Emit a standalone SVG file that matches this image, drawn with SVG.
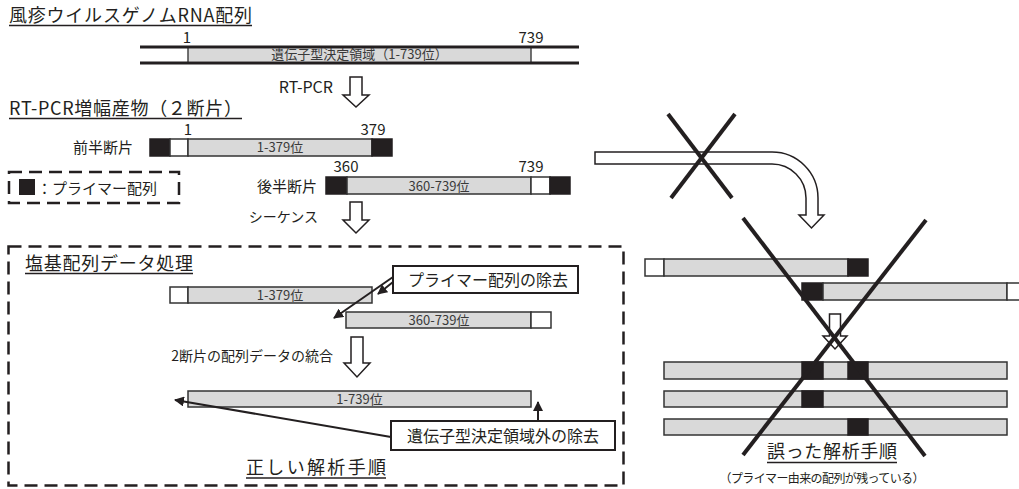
<svg xmlns="http://www.w3.org/2000/svg" width="1019" height="489" viewBox="0 0 1019 489">
<defs>
<style>
text{font-family:"Noto Sans CJK JP","Noto Sans CJK SC",sans-serif;fill:#231f20}
.t18{font-size:18px}
.t16{font-size:16px}
.t15{font-size:15px}
.t14{font-size:14px}
.lab{font-size:13px;fill:#3a3a3a;text-anchor:middle}
.num{font-size:15px;text-anchor:middle}
.ul{stroke:#231f20;stroke-width:1.3}
.g{fill:#d9d9d9;stroke:#333;stroke-width:1.5}
.w{fill:#fff;stroke:#333;stroke-width:1.5}
.k{fill:#231f20;stroke:#231f20;stroke-width:1.5}
.harrow{fill:#fff;stroke:#231f20;stroke-width:1.5;stroke-linejoin:miter}
.dash{fill:none;stroke:#231f20;stroke-width:2.5;stroke-dasharray:13 7}
.box{fill:#fff;stroke:#231f20;stroke-width:2}
.con{fill:none;stroke:#231f20;stroke-width:2;marker-end:url(#ah)}
.x{stroke:#231f20;stroke-width:4;stroke-linecap:butt}
</style>
<marker id="ah" viewBox="0 0 10 10" refX="9" refY="5" markerWidth="5" markerHeight="5" orient="auto" markerUnits="strokeWidth">
<path d="M0,0 L10,5 L0,10 Z" fill="#231f20"/>
</marker>
</defs>
<rect width="1019" height="489" fill="#fff"/>

<g id="genome">
<text class="t18" x="9" y="22" textLength="243">風疹ウイルスゲノムRNA配列</text>
<line class="ul" x1="9" y1="25.5" x2="252" y2="25.5"/>
<rect x="188" y="48.5" width="343" height="13" fill="#d9d9d9"/>
<line x1="188" y1="48" x2="188" y2="62" stroke="#444" stroke-width="1.5"/>
<line x1="531" y1="48" x2="531" y2="62" stroke="#444" stroke-width="1.5"/>
<line x1="140" y1="47" x2="579" y2="47" stroke="#231f20" stroke-width="3"/>
<line x1="140" y1="63" x2="579" y2="63" stroke="#231f20" stroke-width="3"/>
<text class="num" x="187" y="43">1</text>
<text class="num" x="531" y="43">739</text>
<text class="lab" x="359.5" y="59" font-size="12.5">遺伝子型決定領域（1-739位）</text>
</g>

<g id="rtpcr-step">
<text class="t16" x="333" y="93" text-anchor="end">RT-PCR</text>
<path class="harrow" d="M350,77 H362 V95 H369 L356,107 L343,95 H350 Z"/>
</g>

<g id="products">
<text class="t18" x="9" y="115" textLength="233">RT-PCR増幅産物（２断片）</text>
<line class="ul" x1="9" y1="118.5" x2="242" y2="118.5"/>
</g>

<g id="front-fragment">
<text class="t15" x="133" y="153" text-anchor="end">前半断片</text>
<rect class="k" x="150" y="139" width="20" height="17"/>
<rect class="w" x="170" y="139" width="18" height="17"/>
<rect class="g" x="188" y="139" width="184" height="17"/>
<rect class="k" x="372" y="139" width="20" height="17"/>
<text class="num" x="188" y="135">1</text>
<text class="num" x="373" y="135">379</text>
<text class="lab" x="280" y="152">1-379位</text>
</g>

<g id="legend">
<rect class="dash" x="9" y="172" width="170" height="31"/>
<rect x="19" y="179" width="16" height="16" fill="#231f20"/>
<text class="t15" x="37" y="194">：プライマー配列</text>
</g>

<g id="back-fragment">
<text class="t15" x="317" y="192" text-anchor="end">後半断片</text>
<rect class="k" x="326" y="177" width="21" height="17"/>
<rect class="g" x="347" y="177" width="184" height="17"/>
<rect class="w" x="531" y="177" width="19" height="17"/>
<rect class="k" x="550" y="177" width="20" height="17"/>
<text class="num" x="346" y="172">360</text>
<text class="num" x="531" y="172">739</text>
<text class="lab" x="439" y="191">360-739位</text>
</g>

<g id="sequence-step">
<text class="t14" x="318" y="222" text-anchor="end">シーケンス</text>
<path class="harrow" d="M350,202 H362 V220 H369 L356,233 L343,220 H350 Z"/>
</g>

<g id="correct-procedure">
<rect class="dash" x="8.5" y="246.5" width="615" height="239"/>
<text class="t18" x="25" y="270" textLength="168">塩基配列データ処理</text>
<line class="ul" x1="25" y1="273.5" x2="193" y2="273.5"/>
<g id="bar-front-trimmed">
<rect class="w" x="170" y="287" width="18" height="16"/>
<rect class="g" x="188" y="287" width="184" height="16"/>
<text class="lab" x="280" y="300">1-379位</text>
</g>
<g id="bar-back-trimmed">
<rect class="g" x="346" y="312" width="185" height="16"/>
<rect class="w" x="531" y="312" width="20" height="16"/>
<text class="lab" x="439" y="325">360-739位</text>
</g>
<g id="callout-primer">
<rect class="box" x="393" y="266" width="185" height="27"/>
<text class="t16" x="408" y="286">プライマー配列の除去</text>
</g>
<g id="merge-step">
<text class="t14" x="333" y="361" text-anchor="end">2断片の配列データの統合</text>
<path class="harrow" d="M351,337 H363 V363 H370 L357,377 L344,363 H351 Z"/>
</g>
<g id="bar-merged">
<rect class="g" x="188" y="391" width="343" height="16"/>
<text class="lab" x="359.5" y="404">1-739位</text>
</g>
<g id="callout-outside">
<rect class="box" x="391" y="421" width="224" height="29"/>
<text class="t16" x="407" y="442">遺伝子型決定領域外の除去</text>
</g>
<text class="t18" x="246" y="474" textLength="140">正しい解析手順</text>
<line class="ul" x1="246" y1="478" x2="386" y2="478"/>
</g>

<g id="connectors">
<line class="con" x1="393" y1="282" x2="378" y2="294"/>
<line class="con" x1="393" y1="277" x2="334" y2="318"/>
<line class="con" x1="391" y1="437" x2="175" y2="400"/>
<line class="con" x1="538" y1="421" x2="538" y2="402"/>
</g>

<g id="wrong-procedure">
<path class="harrow" d="M595,152 H772 A46,46 0 0 1 818,198 V215 H824 L811.5,228 L799,215 H806 V198 A34,34 0 0 0 772,164 H595 Z"/>
<g id="wrong-bar-a">
<rect class="w" x="645" y="259" width="19" height="17"/>
<rect class="g" x="664" y="259" width="184" height="17"/>
<rect class="k" x="848" y="259" width="20" height="17"/>
</g>
<g id="wrong-bar-b">
<rect class="k" x="802" y="283" width="21" height="17"/>
<rect class="g" x="823" y="283" width="184" height="17"/>
<rect class="w" x="1007" y="283" width="20" height="17"/>
</g>
<path class="harrow" d="M829.5,314 H840.5 V336 H847 L835,349 L823,336 H829.5 Z"/>
<g id="wrong-bars-merged">
<rect class="g" x="664" y="362" width="343" height="17"/>
<rect class="k" x="802" y="362" width="21" height="17"/>
<rect class="k" x="848" y="362" width="20" height="17"/>
<rect class="g" x="664" y="391" width="343" height="16"/>
<rect class="k" x="802" y="391" width="21" height="16"/>
<rect class="g" x="664" y="419" width="343" height="16"/>
<rect class="k" x="848" y="419" width="20" height="16"/>
</g>
<line class="x" x1="668" y1="114" x2="732" y2="198"/>
<line class="x" x1="735" y1="114" x2="671" y2="198"/>
<line class="x" x1="743" y1="218" x2="925" y2="456"/>
<line class="x" x1="926" y1="220" x2="743" y2="455"/>
<text class="t18" x="767" y="458" textLength="130">誤った解析手順</text>
<line class="ul" x1="767" y1="462.5" x2="897" y2="462.5"/>
<text x="822" y="483" font-size="12" text-anchor="middle" textLength="205">（プライマー由来の配列が残っている）</text>
</g>
</svg>
